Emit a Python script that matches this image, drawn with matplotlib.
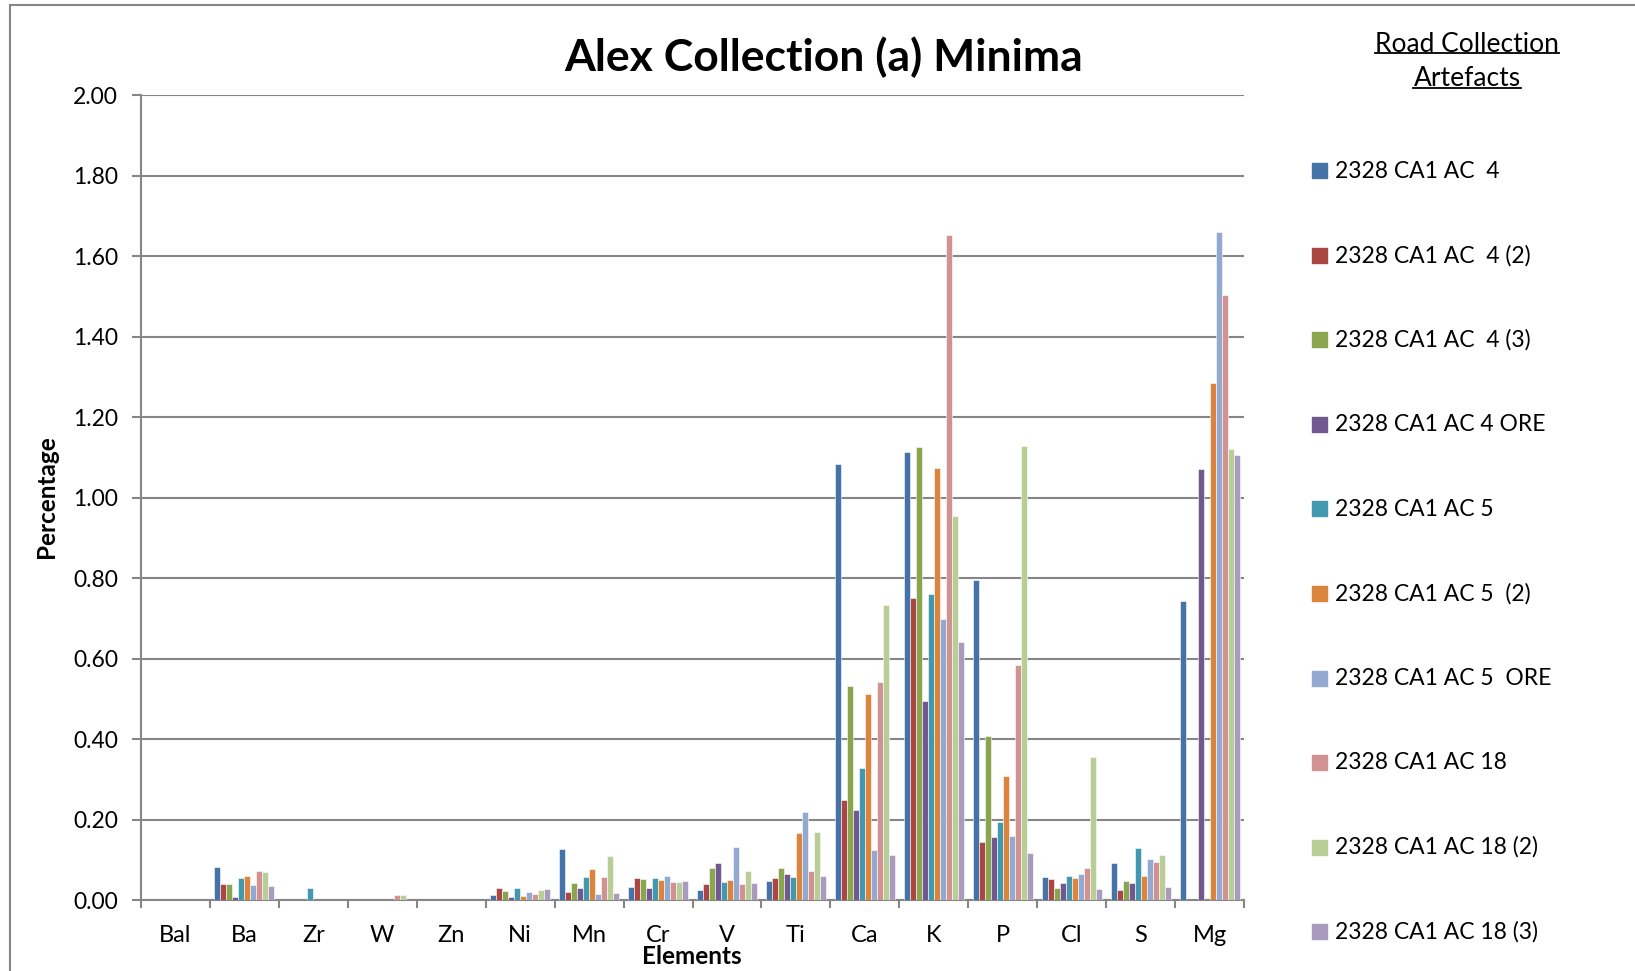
import matplotlib
matplotlib.use('Agg')
import matplotlib.pyplot as plt
import numpy as np
from matplotlib.patches import Rectangle
from matplotlib.lines import Line2D

plt.rcParams['font.family'] = ['Lato', 'DejaVu Sans']

elements = ['Bal', 'Ba', 'Zr', 'W', 'Zn', 'Ni', 'Mn', 'Cr', 'V', 'Ti', 'Ca', 'K', 'P', 'Cl', 'S', 'Mg']

series_names = ['2328 CA1 AC  4', '2328 CA1 AC  4 (2)', '2328 CA1 AC  4 (3)', '2328 CA1 AC 4 ORE',
                '2328 CA1 AC 5', '2328 CA1 AC 5  (2)', '2328 CA1 AC 5  ORE', '2328 CA1 AC 18',
                '2328 CA1 AC 18 (2)', '2328 CA1 AC 18 (3)']
colors = ['#4572A7', '#AA4643', '#89A54E', '#71588F', '#4198AF',
          '#DB843D', '#93A9CF', '#D19392', '#B9CD96', '#A99BBD']

# one list per sample, values in element order
ac4 =      [0, 0.081, 0, 0, 0, 0.013, 0.127, 0.033, 0.024, 0.046, 1.083, 1.114, 0.795, 0.057, 0.091, 0.744]
ac4_2 =    [0, 0.039, 0, 0, 0, 0.029, 0.021, 0.054, 0.039, 0.055, 0.249, 0.751, 0.145, 0.051, 0.026, 0]
ac4_3 =    [0, 0.040, 0, 0, 0, 0.022, 0.042, 0.051, 0.079, 0.079, 0.531, 1.125, 0.407, 0.031, 0.047, 0]
ac4_ore =  [0, 0.008, 0, 0, 0, 0.008, 0.031, 0.029, 0.093, 0.065, 0.224, 0.495, 0.156, 0.042, 0.042, 1.072]
ac5 =      [0, 0.054, 0.029, 0, 0, 0.029, 0.057, 0.055, 0.045, 0.057, 0.328, 0.760, 0.194, 0.060, 0.128, 0]
ac5_2 =    [0, 0.060, 0, 0, 0, 0.011, 0.077, 0.050, 0.050, 0.166, 0.512, 1.073, 0.308, 0.055, 0.059, 1.285]
ac5_ore =  [0, 0.038, 0, 0, 0, 0.019, 0.015, 0.059, 0.132, 0.219, 0.124, 0.698, 0.159, 0.065, 0.102, 1.659]
ac18 =     [0, 0.071, 0, 0.013, 0, 0.014, 0.058, 0.044, 0.039, 0.071, 0.541, 1.652, 0.583, 0.080, 0.094, 1.502]
ac18_2 =   [0, 0.069, 0, 0.013, 0, 0.025, 0.109, 0.045, 0.072, 0.169, 0.733, 0.954, 1.128, 0.355, 0.112, 1.120]
ac18_3 =   [0, 0.034, 0, 0, 0, 0.027, 0.018, 0.046, 0.041, 0.059, 0.112, 0.640, 0.116, 0.027, 0.032, 1.105]

data = [ac4, ac4_2, ac4_3, ac4_ore, ac5, ac5_2, ac5_ore, ac18, ac18_2, ac18_3]

W, H = 1635, 971
fig = plt.figure(figsize=(W / 100, H / 100), dpi=100)
ax = fig.add_axes([141 / W, 1 - 900 / H, (1244 - 141) / W, (900 - 95) / H])

grey = '#868686'
x = np.arange(len(elements))
bw = 0.087
for i, vals in enumerate(data):
    ax.bar(x + (i - 4.5) * bw, vals, width=bw, color=colors[i], edgecolor='white',
           linewidth=0.4, zorder=3)

ax.set_xlim(-0.5, len(elements) - 0.5)
ax.set_ylim(0, 2.0)
ax.set_yticks(np.arange(0, 2.01, 0.2))
ax.set_yticklabels(['%.2f' % v for v in np.arange(0, 2.01, 0.2)])
ax.yaxis.grid(True, color=grey, linewidth=1.5, zorder=0)
ax.set_xticks(x)
ax.set_xticklabels(elements)
ax.set_xticks(np.arange(-0.5, len(elements)), minor=True)
ax.tick_params(axis='x', which='major', length=0, pad=18, labelsize=17)
ax.tick_params(axis='x', which='minor', length=6, width=1.5, color=grey, direction='out')
ax.tick_params(axis='y', length=6.5, width=1.5, color=grey, pad=10, labelsize=16.5)

for s in ['top', 'right']:
    ax.spines[s].set_visible(False)
for s in ['left', 'bottom']:
    ax.spines[s].set_color(grey)
    ax.spines[s].set_linewidth(1.5)

fig.text(824 / W, 1 - 57 / H, 'Alex Collection (a) Minima', ha='center', va='center',
         fontsize=32, fontweight='bold')
fig.text(47 / W, 1 - 497 / H, 'Percentage', rotation=90, ha='center', va='center',
         fontsize=17.5, fontweight='bold')
fig.text(692 / W, 1 - 956 / H, 'Elements', ha='center', va='center',
         fontsize=17.5, fontweight='bold')

# outer chart frame
fig.add_artist(Rectangle((10 / W, -0.2), 2, 1.2 - 5 / H, transform=fig.transFigure,
                         fill=False, edgecolor=grey, linewidth=1.5))

# legend, drawn by hand
t1 = fig.text(1467 / W, 1 - 44 / H, 'Road Collection', ha='center', va='center', fontsize=19)
t2 = fig.text(1467 / W, 1 - 79 / H, 'Artefacts', ha='center', va='center', fontsize=19)
for k, name in enumerate(series_names):
    yc = 171 + k * 84.5
    fig.add_artist(Rectangle((1312 / W, 1 - (yc + 7.5) / H), 15 / W, 15 / H,
                             transform=fig.transFigure, color=colors[k]))
    fig.text(1335 / W, 1 - yc / H, name, ha='left', va='center', fontsize=16.5)

fig.canvas.draw()
r = fig.canvas.get_renderer()
for t in [t1, t2]:
    bb = t.get_window_extent(r).transformed(fig.transFigure.inverted())
    yl = bb.y0 + 3 / H
    fig.add_artist(Line2D([bb.x0, bb.x1], [yl, yl], transform=fig.transFigure,
                          color='black', linewidth=1.3))

fig.savefig('out.png', dpi=100)
